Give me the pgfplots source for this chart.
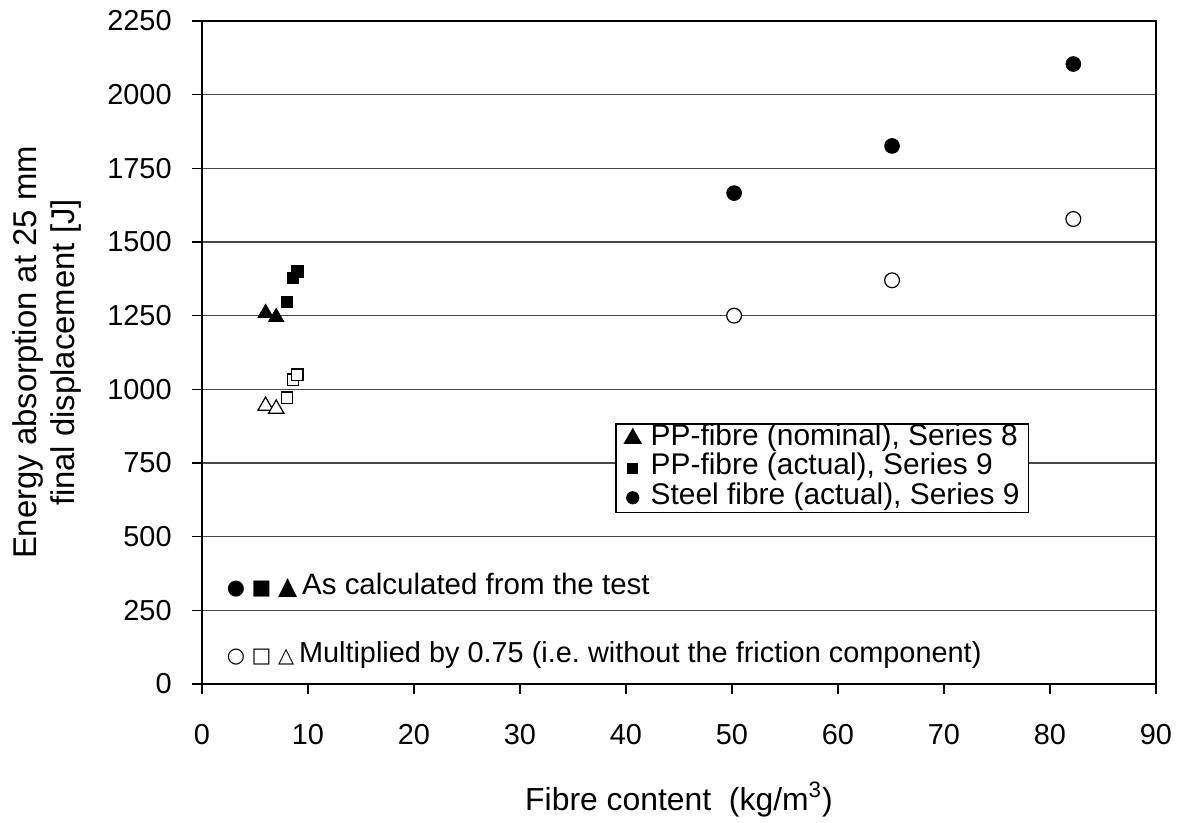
\documentclass[border=0pt]{standalone}
\usepackage{fontspec}
\setmainfont{Liberation Sans}
\newfontfamily\symfont{DejaVu Sans}
\usepackage{pgfplots}
\pgfplotsset{compat=1.18}
\frenchspacing
\begin{document}
\begin{tikzpicture}
\path[use as bounding box] (-101bp,-69.5bp) rectangle (488bp,342bp);
\begin{axis}[
  at={(0,0)}, anchor=south west,
  scale only axis, width=477bp, height=331.5bp,
  xmin=0, xmax=90, ymin=0, ymax=2250,
  xtick={0,10,...,90}, ytick={0,250,...,2250},
  xtick pos=bottom, ytick pos=left,
  ymajorgrids,
  major grid style={draw=black!72, line width=0.6pt},
  axis line style={line width=1.1pt},
  tick style={black, line width=0.6pt},
  tick align=outside, major tick length=5bp,
  ticklabel style={font=\fontsize{14.5}{16}\selectfont},
  /pgf/number format/assume math mode=true,
  /pgf/number format/1000 sep={},
  xticklabel style={anchor=base, yshift=-25bp},
  yticklabel style={anchor=east, inner sep=0pt, xshift=-10bp},
  xlabel={Fibre content\ \ (kg/m\textsuperscript{3})},
  xlabel style={at={(axis description cs:0.5,0)}, anchor=base, yshift=-63bp, font=\fontsize{16}{18}\selectfont},
  ylabel={Energy absorption at 25 mm\\final displacement [J]},
  ylabel style={at={(axis description cs:-0.1625,0.5)}, anchor=center, align=center, font=\fontsize{16.5}{19}\selectfont},
  legend style={at={(axis description cs:0.4329,0.3937)}, anchor=north west,
    draw=black, line width=0.8pt, font=\fontsize{15}{17}\selectfont,
    inner xsep=4.5bp, inner ysep=0bp, row sep=0pt, column sep=5bp,
    nodes={inner sep=0pt, text height=10.8bp, text depth=4bp}},
  legend cell align=left,
  legend image code/.code={\draw[#1] plot coordinates {(4bp,0bp)};},
]
\addplot[only marks, mark=triangle*, mark size=4.4bp, mark options={fill=black, draw=black}, legend image post style={mark size=4.6bp}]
  coordinates {(6,1259) (7,1245)};
\addlegendentry{PP-fibre (nominal), Series 8}
\addplot[only marks, mark=square*, mark size=2.8bp, mark options={fill=black, draw=black}, legend image post style={mark size=2.3bp}]
  coordinates {(8,1296) (8.6,1378) (9,1400)};
\addlegendentry{PP-fibre (actual), Series 9}
\addplot[only marks, mark=*, mark size=3.7bp, mark options={fill=black, draw=black}, legend image post style={mark size=2.9bp}]
  coordinates {(50.2,1666) (65.1,1826) (82.2,2104)};
\addlegendentry{Steel fibre (actual), Series 9}
\addplot[only marks, forget plot, mark=triangle*, mark size=4.4bp, mark options={fill=white, draw=black, line width=0.6pt}]
  coordinates {(6,944) (7,934)};
\addplot[only marks, forget plot, mark=square*, mark size=2.8bp, mark options={fill=white, draw=black, line width=0.6pt}]
  coordinates {(8,972) (8.6,1033) (9,1050)};
\addplot[only marks, forget plot, mark=*, mark size=3.7bp, mark options={fill=white, draw=black, line width=0.6pt}]
  coordinates {(50.2,1250) (65.1,1370) (82.2,1578)};
\node[anchor=west, inner sep=0pt, font=\fontsize{14.8}{16}\selectfont] at (axis cs:2.3,336)
  {{\symfont\fontsize{10.5}{12}\selectfont ● ■ {\fontsize{12.5}{12}\selectfont ▲}}\,As calculated from the test};
\node[anchor=west, inner sep=0pt, font=\fontsize{14.5}{16}\selectfont] at (axis cs:2.3,98)
  {{\symfont\fontsize{10.5}{12}\selectfont ○ □ △}\,Multiplied by 0.75 (i.e. without the friction component)};
\end{axis}
\end{tikzpicture}
\end{document}
